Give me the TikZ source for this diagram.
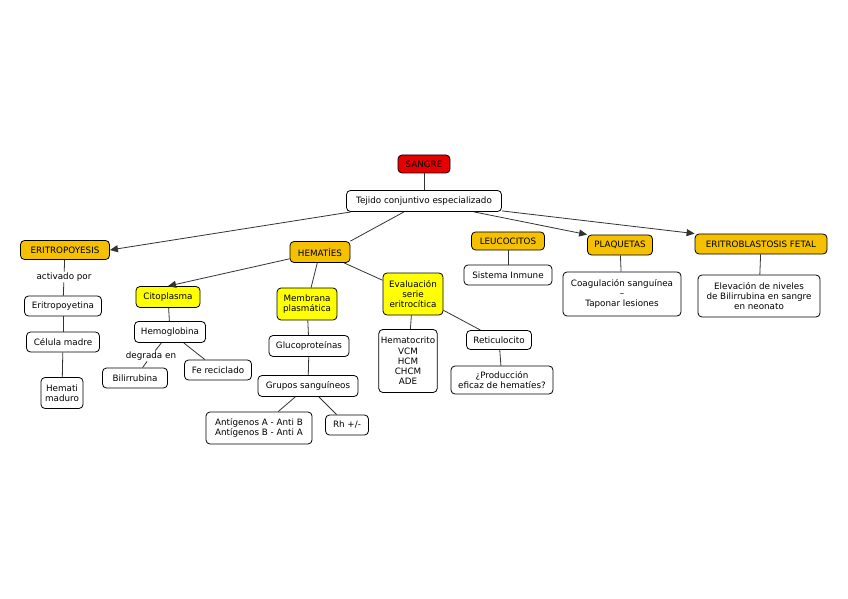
\documentclass[tikz,border=0pt]{standalone}
\usepackage{fontspec}
\setmainfont{DejaVu Sans}
\usetikzlibrary{arrows.meta}
\definecolor{gold}{RGB}{245,192,0}
\definecolor{yel}{RGB}{255,255,0}
\definecolor{redc}{RGB}{230,0,0}
\tikzset{
  box/.style={draw=black, line width=0.8bp, rounded corners=4bp, fill=white, align=center,
    font=\fontsize{8.8}{10.3}\selectfont, inner xsep=2bp, inner ysep=2bp},
  cat/.style={box, fill=gold},
  sub/.style={box, fill=yel},
  top/.style={box, fill=redc},
  sz/.style 2 args={minimum width=#1bp, minimum height=#2bp},
  link/.style={draw=black!80, line width=0.8bp},
  arr/.style={link, -{Triangle[length=8bp,width=7bp]}},
  lbl/.style={font=\fontsize{8.8}{10.3}\selectfont, fill=white, inner sep=1bp}
}
\begin{document}
\begin{tikzpicture}[x=1bp,y=-1bp]
\useasboundingbox[fill=white] (0,0) rectangle (848,599);
\node[top,sz={52}{18}] (sangre) at (424,164) {SANGRE};
\node[box,sz={155}{21}] (tejido) at (424,201) {Tejido conjuntivo especializado};
\node[cat,sz={89}{19}] (eritro) at (65,250) {ERITROPOYESIS};
\node[cat,sz={60}{21}] (hema) at (320,252) {HEMATÍES};
\node[cat,sz={73}{18}] (leuco) at (508,241) {LEUCOCITOS};
\node[cat,sz={65}{20}] (plaq) at (620,245) {PLAQUETAS};
\node[cat,sz={132}{20}] (fetal) at (761,244) {ERITROBLASTOSIS FETAL};
\node[lbl] (activ) at (64,277) {activado por};
\node[box,sz={77}{20}] (epo) at (63,306) {Eritropoyetina};
\node[box,sz={73}{20}] (celula) at (63,342) {Célula madre};
\node[box,sz={42}{31}] (madur) at (62,393) {Hemati\\maduro};
\node[sub,sz={64}{21}] (cito) at (168,297) {Citoplasma};
\node[box,sz={71}{21}] (hemo) at (170,332) {Hemoglobina};
\node[lbl] (degr) at (151,356) {degrada en};
\node[box,sz={65}{20}] (bili) at (135,378) {Bilirrubina};
\node[box,sz={67}{20}] (fe) at (218,370) {Fe reciclado};
\node[sub,sz={60}{32}] (memb) at (307,304) {Membrana\\plasmática};
\node[box,sz={80}{21}] (gluco) at (309,346) {Glucoproteínas};
\node[box,sz={100}{21}] (grupos) at (308,386) {Grupos sanguíneos};
\node[box,sz={106}{32}] (antig) at (259,428) {Antígenos A - Anti B\\Antígenos B - Anti A};
\node[box,sz={43}{20}] (rh) at (347,425) {Rh +/-};
\node[sub,sz={60}{42}] (evalu) at (413,294) {Evaluación\\serie\\eritrocítica};
\node[box,sz={58}{63}] (hcto) at (408,361) {Hematocrito\\VCM\\HCM\\CHCM\\ADE};
\node[box,sz={65}{19}] (retic) at (499,340) {Reticulocito};
\node[box,sz={102}{28}] (prod) at (502,380) {¿Producción\\eficaz de hematíes?};
\node[box,sz={88}{20}] (inmune) at (508,275) {Sistema Inmune};
\node[box,sz={118}{44}] (coag) at (622,294) {Coagulación sanguínea\\–\\Taponar lesiones};
\node[box,sz={122}{42}] (elev) at (759,296) {Elevación de niveles\\de Bilirrubina en sangre\\en neonato};

\draw[link] (sangre) -- (tejido);
\draw[arr] (tejido.south west) ++(5,0) coordinate (tw) (tw) -- (eritro.east);
\draw[link] (tejido) -- (hema.north east);
\draw[arr] (tejido.south) ++(50,0) coordinate (tp) (tp) -- (plaq.north west);
\draw[arr] (tejido.south east) ++(0,-1) coordinate (te) (te) -- (fetal.north west);
\draw[link] (eritro) -- (activ);
\draw[link] (activ) -- (epo);
\draw[link] (epo) -- (celula);
\draw[link] (celula) -- (madur);
\draw[arr] (hema) -- (cito.north);
\draw[link] (hema) -- (memb);
\draw[link] (hema) -- (evalu);
\draw[link] (cito) -- (hemo);
\draw[link] (hemo) -- (degr);
\draw[link] (degr) -- (bili);
\draw[link] (hemo) -- (fe);
\draw[link] (memb) -- (gluco);
\draw[link] (gluco) -- (grupos);
\draw[link] (grupos) -- (antig);
\draw[link] (grupos) -- (rh);
\draw[link] (evalu) -- (hcto);
\draw[link] (evalu) -- (retic);
\draw[link] (retic) -- (prod);
\draw[link] (leuco) -- (inmune);
\draw[link] (plaq) -- (coag);
\draw[link] (fetal) -- (elev);
\end{tikzpicture}
\end{document}
